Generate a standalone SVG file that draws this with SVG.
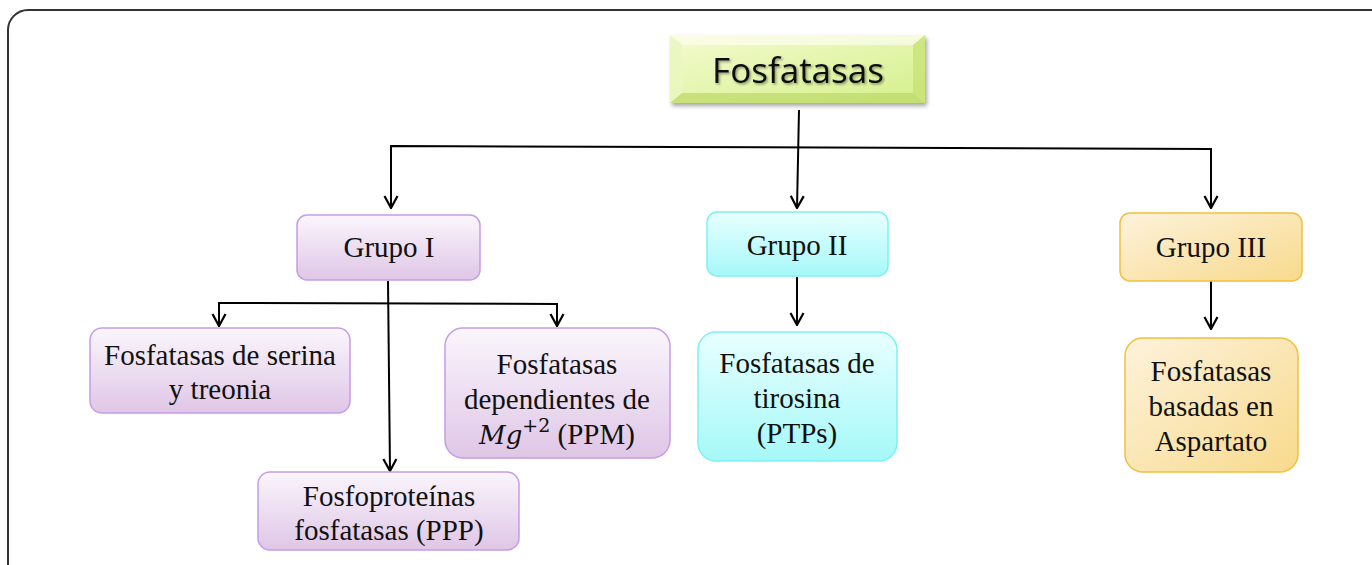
<svg xmlns="http://www.w3.org/2000/svg" width="1372" height="565" viewBox="0 0 1372 565">
<defs>
<linearGradient id="gTitle" x1="0" y1="0" x2="1" y2="1">
<stop offset="0" stop-color="#f4fbd0"/><stop offset="1" stop-color="#d4f08a"/>
</linearGradient>
<linearGradient id="gPurple" x1="0" y1="0" x2="0" y2="1">
<stop offset="0" stop-color="#faf6fc"/><stop offset="1" stop-color="#dfc6e6"/>
</linearGradient>
<linearGradient id="gCyan" x1="0" y1="0" x2="0" y2="1">
<stop offset="0" stop-color="#e8ffff"/><stop offset="1" stop-color="#a6f8f8"/>
</linearGradient>
<linearGradient id="gOrange" x1="0" y1="0" x2="1" y2="1">
<stop offset="0" stop-color="#fdf2dc"/><stop offset="1" stop-color="#f8da8c"/>
</linearGradient>
<filter id="shadow" x="-10%" y="-10%" width="130%" height="140%">
<feDropShadow dx="2" dy="3" stdDeviation="2" flood-color="#000" flood-opacity="0.35"/>
</filter>
<filter id="tshadow" x="-10%" y="-20%" width="130%" height="150%">
<feDropShadow dx="1.5" dy="1.5" stdDeviation="1" flood-color="#000" flood-opacity="0.4"/>
</filter>
<marker id="arr" viewBox="0 0 16 16" refX="15" refY="8" markerWidth="16" markerHeight="16" markerUnits="userSpaceOnUse" orient="auto-start-reverse">
<path d="M3,1.5 L15,8 L3,14.5" fill="none" stroke="#000" stroke-width="2.2"/>
</marker>
</defs>
<style>
.lbl{font-family:"Liberation Serif","Times New Roman",serif;font-size:29px;fill:#111;text-anchor:middle}
.pur{fill:url(#gPurple);stroke:#c69ce8;stroke-width:1.5}
.cyn{fill:url(#gCyan);stroke:#7ef0f4;stroke-width:1.5}
.org{fill:url(#gOrange);stroke:#f0c040;stroke-width:1.5}
.con{fill:none;stroke:#000;stroke-width:2;marker-end:url(#arr)}
</style>
<rect x="0" y="0" width="1372" height="565" fill="#fff"/>
<rect x="8" y="10" width="1420" height="600" rx="20" fill="none" stroke="#333" stroke-width="2"/>

<g id="connectors">
<path class="con" d="M799,110 L797,208"/>
<path class="con" d="M391,208 L391,146 L1211,149 L1211,208" style="marker-start:url(#arr)"/>
<path class="con" d="M388,281 L390,471"/>
<path class="con" d="M219,326 L219,303 L557,304 L557,326" style="marker-start:url(#arr)"/>
<path class="con" d="M797,277 L797,325"/>
<path class="con" d="M1211,281 L1211,329"/>
</g>

<g id="n-fosfatasas">
<rect x="670" y="35" width="255" height="68" fill="url(#gTitle)" filter="url(#shadow)"/>
<polygon points="670,35 925,35 913,45 682,45" fill="#fbfde8" opacity="0.8"/>
<polygon points="670,35 682,45 682,93 670,103" fill="#eaf6c0" opacity="0.8"/>
<polygon points="925,35 925,103 913,93 913,45" fill="#c6e070" opacity="0.7"/>
<polygon points="670,103 682,93 913,93 925,103" fill="#bcd868" opacity="0.7"/>
<text x="798" y="83" font-family="'Open Sans','Liberation Sans',sans-serif" font-size="35" fill="#111" text-anchor="middle" filter="url(#tshadow)">Fosfatasas</text>
</g>

<g id="n-grupo1">
<rect class="pur" x="297" y="215" width="183" height="65" rx="10"/>
<text class="lbl" x="389" y="257">Grupo I</text>
</g>
<g id="n-grupo2">
<rect class="cyn" x="707" y="212" width="181" height="64" rx="10"/>
<text class="lbl" x="797" y="255">Grupo II</text>
</g>
<g id="n-grupo3">
<rect class="org" x="1120" y="213" width="182" height="68" rx="10"/>
<text class="lbl" x="1211" y="257">Grupo III</text>
</g>

<g id="n-serina">
<rect class="pur" x="90" y="328" width="260" height="85" rx="12"/>
<text class="lbl" x="220" y="365">Fosfatasas de serina</text>
<text class="lbl" x="220" y="399">y treonia</text>
</g>
<g id="n-ppm">
<rect class="pur" x="445" y="328" width="225" height="130" rx="18"/>
<text class="lbl" x="557" y="374">Fosfatasas</text>
<text class="lbl" x="557" y="409">dependientes de</text>
<text class="lbl" x="557" y="444"><tspan font-family="'DejaVu Serif','Liberation Serif',serif" font-style="italic" font-size="26">Mg</tspan><tspan font-family="'DejaVu Serif','Liberation Serif',serif" font-size="19" dy="-12">+2</tspan><tspan dy="12"> (PPM)</tspan></text>
</g>
<g id="n-ppp">
<rect class="pur" x="258" y="472" width="261" height="78" rx="12"/>
<text class="lbl" x="389" y="506">Fosfoproteínas</text>
<text class="lbl" x="389" y="540">fosfatasas (PPP)</text>
</g>
<g id="n-ptps">
<rect class="cyn" x="698" y="332" width="199" height="129" rx="18"/>
<text class="lbl" x="797" y="373">Fosfatasas de</text>
<text class="lbl" x="797" y="408">tirosina</text>
<text class="lbl" x="797" y="443">(PTPs)</text>
</g>
<g id="n-aspartato">
<rect class="org" x="1125" y="338" width="173" height="134" rx="18"/>
<text class="lbl" x="1211" y="381">Fosfatasas</text>
<text class="lbl" x="1211" y="416">basadas en</text>
<text class="lbl" x="1211" y="451">Aspartato</text>
</g>
</svg>
